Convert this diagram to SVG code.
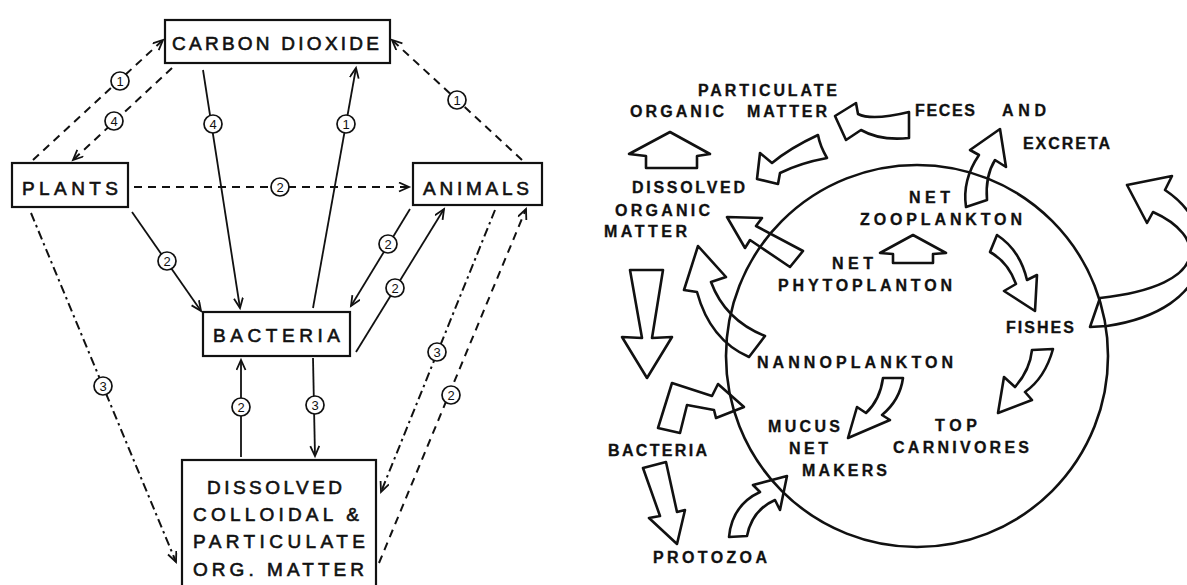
<svg xmlns="http://www.w3.org/2000/svg" width="1187" height="585" viewBox="0 0 1187 585">
<style>
.box{fill:#fff;stroke:#111;stroke-width:2.2}
.lt{font-family:"Liberation Sans",Arial,sans-serif;font-size:19px;fill:#111;stroke:#111;stroke-width:0.6}
.rt{font-family:"Liberation Sans",Arial,sans-serif;font-size:16px;font-weight:bold;fill:#111;stroke:#111;stroke-width:0.3}
.c{fill:none;stroke:#111;stroke-width:1.8}
.d{stroke-width:2;stroke-dasharray:8,6}
.dd{stroke-width:2;stroke-dasharray:9,4,2.5,4}
.lbl circle{fill:#fff;stroke:#111;stroke-width:1.7}
.lbl text{font-family:"Liberation Sans",Arial,sans-serif;font-size:13px;fill:#111;text-anchor:middle}
.ba{fill:none;stroke:#111;stroke-width:2.6;stroke-linejoin:round}
</style>
<defs>
<marker id="ah" markerUnits="userSpaceOnUse" markerWidth="14" markerHeight="12" refX="11" refY="5" orient="auto">
<path d="M1,0.5 L11,5 L1,9.5" fill="none" stroke="#111" stroke-width="1.8"/>
</marker>
</defs>
<rect width="1187" height="585" fill="#fff"/>

<g id="connectors">
<path class="c d" d="M33,160 L163,40" marker-end="url(#ah)"/>
<path class="c d" d="M172,68 L73,160" marker-end="url(#ah)"/>
<path class="c" d="M203,70 L240,308" marker-end="url(#ah)"/>
<path class="c" d="M313,308 L356,68" marker-end="url(#ah)"/>
<path class="c d" d="M522,160 L392,40" marker-end="url(#ah)"/>
<path class="c d" d="M134,187 L409,187" marker-end="url(#ah)"/>
<path class="c" d="M132,212 L201,311" marker-end="url(#ah)"/>
<path class="c" d="M410,209 L351,306" marker-end="url(#ah)"/>
<path class="c" d="M356,352 L444,209" marker-end="url(#ah)"/>
<path class="c dd" d="M495,210 L381,492" marker-end="url(#ah)"/>
<path class="c d" d="M379,563 L526,209" marker-end="url(#ah)"/>
<path class="c dd" d="M31,213 L176,562" marker-end="url(#ah)"/>
<path class="c" d="M241,457 L241,360" marker-end="url(#ah)"/>
<path class="c" d="M313,358 L315,456" marker-end="url(#ah)"/>
<g class="lbl">
<circle cx="120" cy="81" r="9"/><text x="120" y="85.5">1</text>
<circle cx="114" cy="121" r="9"/><text x="114" y="125.5">4</text>
<circle cx="213" cy="124" r="9"/><text x="213" y="128.5">4</text>
<circle cx="346" cy="124" r="9"/><text x="346" y="128.5">1</text>
<circle cx="457" cy="100" r="9"/><text x="457" y="104.5">1</text>
<circle cx="280" cy="187" r="9"/><text x="280" y="191.5">2</text>
<circle cx="167" cy="261" r="9"/><text x="167" y="265.5">2</text>
<circle cx="388" cy="244" r="9"/><text x="388" y="248.5">2</text>
<circle cx="395" cy="288" r="9"/><text x="395" y="292.5">2</text>
<circle cx="437" cy="352" r="9"/><text x="437" y="356.5">3</text>
<circle cx="451" cy="395" r="9"/><text x="451" y="399.5">2</text>
<circle cx="103" cy="386" r="9"/><text x="103" y="390.5">3</text>
<circle cx="241" cy="407" r="9"/><text x="241" y="411.5">2</text>
<circle cx="315" cy="405" r="9"/><text x="315" y="409.5">3</text>
</g>
</g>

<g id="carbon-dioxide">
<rect class="box" x="165" y="20" width="225" height="43"/>
<text class="lt" x="172" y="50" textLength="207" lengthAdjust="spacing">CARBON DIOXIDE</text>
</g>
<g id="plants">
<rect class="box" x="12" y="163" width="116" height="44"/>
<text class="lt" x="22" y="195" textLength="96" lengthAdjust="spacing">PLANTS</text>
</g>
<g id="animals">
<rect class="box" x="413" y="163" width="129" height="42"/>
<text class="lt" x="423" y="195" textLength="106" lengthAdjust="spacing">ANIMALS</text>
</g>
<g id="bacteria">
<rect class="box" x="203" y="312" width="147" height="44"/>
<text class="lt" x="213" y="342" textLength="127" lengthAdjust="spacing">BACTERIA</text>
</g>
<g id="dissolved">
<rect class="box" x="182" y="460" width="194" height="135"/>
<text class="lt" x="207" y="494" textLength="135" lengthAdjust="spacing">DISSOLVED</text>
<text class="lt" x="193" y="521" textLength="166" lengthAdjust="spacing">COLLOIDAL &amp;</text>
<text class="lt" x="193" y="548" textLength="172" lengthAdjust="spacing">PARTICULATE</text>
<text class="lt" x="193" y="576" textLength="171" lengthAdjust="spacing">ORG. MATTER</text>
</g>

<g id="right-diagram">
<circle cx="917" cy="356" r="191" fill="none" stroke="#111" stroke-width="2.6"/>
<g id="arrows">
<path class="ba" d="M670,132 L710,154 L697,156 L697,168 L646,168 L646,156 L629,154 Z"/>
<path class="ba" d="M835,116 L856,103 L858,114 Q872,121 909,112 L909,138 Q880,141 861,130 L846,140 Z"/>
<path class="ba" d="M757,179 L760,153 L772,163 Q790,148 818,135 Q820,146 827,158 Q800,163 780,173 L778,184 Z"/>
<path class="ba" d="M1000,129 L1006,167 L995,160 Q985,176 987,200 L966,207 Q962,180 979,155 L970,150 Z"/>
<path class="ba" d="M1127,185 L1172,176 L1165,190 C1225,230 1215,310 1107,326 L1090,327 L1100,298 C1215,285 1205,235 1153,212 L1147,223 Z"/>
<path class="ba" d="M997,235 Q1020,250 1027,280 L1037,275 L1035,311 L1004,291 L1016,284 Q1008,262 990,252 Z"/>
<path class="ba" d="M913,235 L946,253 L933,254 L933,263 L893,263 L893,254 L880,253 Z"/>
<path class="ba" d="M727,217 L762,218 L756,226 L803,251 L790,267 L750,240 L745,248 Z"/>
<path class="ba" d="M698,246 L726,277 L711,282 Q725,320 765,336 L749,357 Q710,340 697,292 L684,290 Z"/>
<path class="ba" d="M630,270 L663,270 L652,338 L672,337 L647,378 L622,337 L642,338 Z"/>
<path class="ba" d="M658,428 L672,383 L712,396 L718,384 L744,407 L716,418 L714,410 L687,405 L680,433 Z"/>
<path class="ba" d="M643,468 L666,462 L677,512 L685,510 L677,544 L649,518 L660,516 Z"/>
<path class="ba" d="M729,537 Q732,505 760,492 L753,485 L787,476 L780,510 L775,500 Q752,510 747,536 Z"/>
<path class="ba" d="M883,378 L903,378 Q900,400 882,415 L890,420 L848,438 L857,407 L866,413 Q880,400 883,378 Z"/>
<path class="ba" d="M1032,350 L1053,349 Q1045,378 1025,392 L1032,400 L998,413 L1004,377 L1015,387 Q1030,370 1032,350 Z"/>
</g>
<g id="labels">
<text class="rt" x="698" y="96" textLength="139" lengthAdjust="spacing">PARTICULATE</text>
<text class="rt" x="630" y="117" textLength="94" lengthAdjust="spacing">ORGANIC</text>
<text class="rt" x="747" y="117" textLength="80" lengthAdjust="spacing">MATTER</text>
<text class="rt" x="915" y="116" textLength="60" lengthAdjust="spacing">FECES</text>
<text class="rt" x="1002" y="116" textLength="44" lengthAdjust="spacing">AND</text>
<text class="rt" x="1023" y="149" textLength="87" lengthAdjust="spacing">EXCRETA</text>
<text class="rt" x="632" y="193" textLength="113" lengthAdjust="spacing">DISSOLVED</text>
<text class="rt" x="615" y="216" textLength="95" lengthAdjust="spacing">ORGANIC</text>
<text class="rt" x="604" y="237" textLength="83" lengthAdjust="spacing">MATTER</text>
<text class="rt" x="909" y="203" textLength="41" lengthAdjust="spacing">NET</text>
<text class="rt" x="860" y="225" textLength="162" lengthAdjust="spacing">ZOOPLANKTON</text>
<text class="rt" x="832" y="269" textLength="41" lengthAdjust="spacing">NET</text>
<text class="rt" x="778" y="291" textLength="174" lengthAdjust="spacing">PHYTOPLANTON</text>
<text class="rt" x="1006" y="333" textLength="68" lengthAdjust="spacing">FISHES</text>
<text class="rt" x="757" y="368" textLength="196" lengthAdjust="spacing">NANNOPLANKTON</text>
<text class="rt" x="768" y="432" textLength="72" lengthAdjust="spacing">MUCUS</text>
<text class="rt" x="789" y="454" textLength="39" lengthAdjust="spacing">NET</text>
<text class="rt" x="802" y="476" textLength="85" lengthAdjust="spacing">MAKERS</text>
<text class="rt" x="608" y="456" textLength="99" lengthAdjust="spacing">BACTERIA</text>
<text class="rt" x="653" y="563" textLength="114" lengthAdjust="spacing">PROTOZOA</text>
<text class="rt" x="935" y="431" textLength="42" lengthAdjust="spacing">TOP</text>
<text class="rt" x="893" y="453" textLength="136" lengthAdjust="spacing">CARNIVORES</text>
</g>
</g>
</svg>
